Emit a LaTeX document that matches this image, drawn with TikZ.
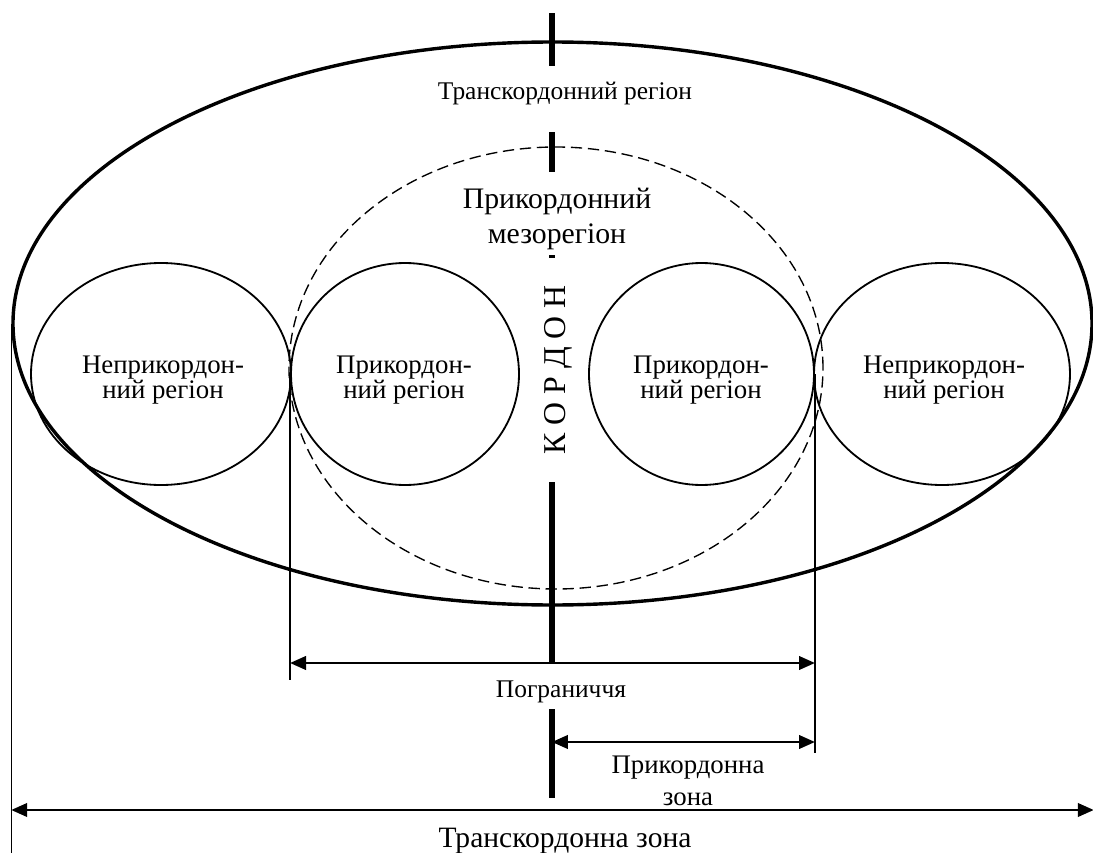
\documentclass[tikz,border=0pt]{standalone}
\usepackage{fontspec}
\setmainfont{Liberation Serif}
\usetikzlibrary{shapes.geometric,arrows.meta}

\newcommand{\px}{0.44pt}

\begin{document}
\begin{tikzpicture}[x=0.44pt,y=-0.44pt,
  region/.style={draw,ellipse,inner sep=0pt,line width=0.8pt,minimum height=222*\px},
  regtxt/.style={align=center,font=\fontsize{11.8}{11}\selectfont},
  cordon/.style={line width=3pt},
  dim/.style={line width=0.9pt,{Triangle[length=7pt,width=6pt]}-{Triangle[length=7pt,width=6pt]}},
  ext/.style={line width=0.6pt}]
\useasboundingbox (0,0) rectangle (1093,853);

% regions
\node[draw,ellipse,line width=1.5pt,minimum width=1079*\px,minimum height=563*\px] (trans) at (552.5,323.5) {};
\node[draw,ellipse,line width=0.6pt,dash pattern=on 5pt off 2.5pt,minimum width=534*\px,minimum height=442*\px] (meso) at (556,368) {};

\node[region,minimum width=260*\px] (np1) at (161,374) {};
\node[region,minimum width=228*\px] (pk1) at (405,374) {};
\node[region,minimum width=225*\px] (pk2) at (701.5,374) {};
\node[region,minimum width=256*\px] (np2) at (942,374) {};

\node[regtxt] (np1t) at (163,380) {Неприкордон-\\ний регіон};
\node[regtxt] (pk1t) at (404,380) {Прикордон-\\ний регіон};
\node[regtxt] (pk2t) at (701,380) {Прикордон-\\ний регіон};
\node[regtxt] (np2t) at (944,380) {Неприкордон-\\ний регіон};

\node[anchor=base,font=\fontsize{11.2}{12}\selectfont] (transtxt) at (565,99) {Транскордонний регіон};
\node[font=\fontsize{13.1}{15.5}\selectfont,align=center] (mesotxt) at (557,219) {Прикордонний\\мезорегіон};
\node[font=\fontsize{14}{14}\selectfont,rotate=90] (kordon) at (558,370) {К О Р Д О Н};

% cordon
\foreach \a/\b in {13/66,132/172,255/258,482/663,709/798}
  \draw[cordon] (552,\a) -- (552,\b);

% dimension lines
\coordinate (bot) at (0,853);
\coordinate (ypog) at (0,663);
\coordinate (ypz) at (0,742);
\coordinate (ytz) at (0,810);
\coordinate (kord) at (552,742);

\draw[ext] (trans.west) -- (trans.west |- bot);
\draw[ext] (trans.east) -- (trans.east |- bot);
\draw[ext] (pk1.west) -- (pk1.west |- 0,680);
\draw[ext] (pk2.east) -- (pk2.east |- 0,753);

\draw[dim] (pk1.west |- ypog) -- (pk2.east |- ypog);
\draw[dim] (kord) -- (pk2.east |- ypz);
\draw[dim] (trans.west |- ytz) -- (trans.east |- ytz);

\node[anchor=base,font=\fontsize{11.2}{12}\selectfont] (pog) at (561,697) {Пограниччя};
\node[align=center,font=\fontsize{11.8}{14}\selectfont] (pz) at (688,781) {Прикордонна\\зона};
\node[anchor=base,font=\fontsize{13}{14}\selectfont] (tz) at (565,847) {Транскордонна зона};

\end{tikzpicture}
\end{document}
